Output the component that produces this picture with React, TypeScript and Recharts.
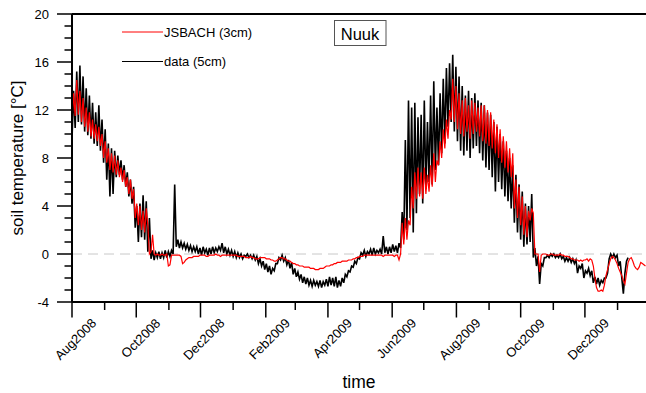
import React from "react";
import { LineChart, Line, XAxis, YAxis, ReferenceLine } from "recharts";

// days counted from 1 Aug 2008; two readings per 3-day step (start / middle)
const monthDays = [0, 31, 61, 92, 122, 153, 184, 212, 243, 273, 304, 334, 365, 396, 426, 457, 487, 518];
const monthLabels: Record<number, string> = {
  0: "Aug2008",
  61: "Oct2008",
  122: "Dec2008",
  184: "Feb2009",
  243: "Apr2009",
  304: "Jun2009",
  365: "Aug2009",
  426: "Oct2009",
  487: "Dec2009",
};
const yTicks = [-4, -3, -2, -1, 0, 1, 2, 3, 4, 5, 6, 7, 8, 9, 10, 11, 12, 13, 14, 15, 16, 17, 18, 19, 20];
const yLabels = [-4, 0, 4, 8, 12, 16, 20];

// data (5cm)
const dataA: (number | null)[] = [
  9.5, 10.5, 11.0, 10.8, 10.2, 9.9, 9.6, 9.2, 9.0, 8.6,
  7.6, 6.2, 4.8, 5.0, 6.4, 6.6, 6.2, 5.6, 4.8, 4.2,
  2.2, 1.0, 1.4, 1.2, 0.2, -0.4, -0.5, -0.3, -0.4, -0.3,
  -0.3, -0.2, 0.0, 0.6, 0.5, 0.5, 0.4, 0.3, 0.2, 0.2,
  0.0, -0.1, 0.1, -0.1, 0.0, 0.1, 0.2, 0.3, 0.1, 0.0,
  -0.1, -0.2, -0.3, -0.3, -0.4, -0.2, -0.3, -0.4, -0.5, -0.8,
  -1.0, -1.3, -1.5, -1.7, -1.4, -0.8, -0.5, -0.6, -0.9, -1.2,
  -1.7, -1.9, -2.1, -2.4, -2.5, -2.6, -2.7, -2.6, -2.7, -2.8,
  -2.6, -2.7, -2.6, -2.7, -2.8, -2.7, -2.4, -1.9, -1.5, -1.1,
  -0.8, -0.4, -0.1, -0.2, 0.0, -0.1, 0.0, 0.1, 0.0, 0.1,
  0.0, 0.1, 0.2, 0.1, 0.5, 1.2, 2.0, 3.0, 1.8, 3.4,
  5.0, 4.2, 5.4, 6.0, 5.8, 7.0, 7.4, 8.4, 9.2, 10.6,
  11.0, 10.2, 9.4, 8.6, 8.2, 8.6, 8.0, 8.8, 9.0, 8.4,
  7.8, 7.2, 7.0, 6.4, 5.2, 6.0, 5.4, 4.8, 4.4, 3.8,
  2.6, 1.8, 1.2, 0.6, 0.8, 1.0, -0.3, -1.0, -2.5, -1.0,
  -0.3, -0.3, -0.2, -0.3, -0.3, -0.4, -0.6, -0.6, -0.7, -0.8,
  -1.6, -1.2, -2.0, -1.6, -1.8, -2.4, -2.5, -2.6, -2.4, -2.0,
  -0.4, -0.3, -0.3, -1.0, -2.0, -1.6, -0.3, null, null, null,
  null, null,
];
const dataB: (number | null)[] = [
  13.6, 15.2, 15.7, 14.8, 13.8, 13.2, 12.6, 11.8, 12.4, 11.2,
  10.4, 9.2, 8.8, 8.6, 8.2, 7.8, 7.4, 6.8, 6.2, 5.6,
  4.0, 4.2, 4.9, 4.4, 3.0, 0.3, 0.1, 0.2, 0.1, 0.3,
  0.2, 0.3, 5.8, 1.2, 1.0, 0.9, 0.8, 0.7, 0.6, 0.6,
  0.5, 0.6, 0.4, 0.5, 0.6, 0.5, 0.6, 0.9, 0.6, 0.4,
  0.3, 0.2, 0.1, 0.0, -0.1, 0.0, -0.1, -0.1, -0.2, -0.4,
  -0.6, -0.8, -1.0, -1.2, -0.8, -0.3, -0.1, -0.3, -0.5, -0.7,
  -1.2, -1.5, -1.7, -1.9, -2.0, -2.2, -2.2, -2.3, -2.2, -2.3,
  -2.1, -1.9, -2.0, -1.9, -2.2, -2.0, -1.7, -1.4, -1.0, -0.6,
  -0.3, 0.1, 0.3, 0.2, 0.4, 0.5, 0.3, 0.4, 1.5, 0.6,
  0.6, 0.8, 0.7, 0.9, 3.5, 9.5, 12.8, 12.2, 12.6, 11.4,
  11.6, 12.8, 11.0, 13.2, 14.4, 12.2, 13.4, 14.6, 15.5, 15.9,
  16.6, 15.6, 14.8, 14.0, 13.2, 13.6, 13.0, 13.4, 12.8, 12.6,
  12.4, 11.8, 11.6, 11.0, 10.6, 10.0, 9.4, 8.6, 8.0, 7.4,
  6.6, 5.8, 5.2, 4.2, 4.0, 5.0, 0.5, -0.2, -0.8, -0.3,
  -0.1, 0.0, 0.0, -0.1, 0.0, -0.2, -0.3, -0.3, -0.4, -0.5,
  -1.0, -0.8, -1.4, -1.2, -1.4, -1.9, -2.0, -2.2, -2.0, -1.6,
  0.0, 0.0, -0.1, -0.6, -3.3, -0.6, null, null, null, null,
  null, null,
];

// JSBACH (3cm)
const modelA: number[] = [
  11.0, 11.5, 11.6, 11.0, 10.6, 10.2, 9.8, 9.6, 9.4, 9.0,
  8.0, 7.6, 7.0, 6.8, 6.6, 6.4, 6.0, 5.6, 5.0, 4.6,
  3.0, 2.4, 2.0, 1.8, 2.4, 0.2, 0.0, 0.0, -0.1, -0.1,
  0.0, -0.9, -0.1, -0.1, -0.1, -0.8, -0.5, -0.3, -0.3, -0.2,
  -0.2, -0.1, -0.1, -0.2, -0.1, -0.1, -0.1, -0.2, -0.1, -0.1,
  -0.1, -0.1, -0.1, -0.2, -0.2, -0.3, -0.3, -0.3, -0.4, -0.4,
  -0.3, -0.3, -0.4, -0.5, -0.6, -0.5, -0.3, -0.4, -0.5, -0.6,
  -0.8, -0.9, -1.0, -1.0, -1.1, -1.1, -1.2, -1.3, -1.3, -1.2,
  -1.1, -1.0, -0.9, -0.8, -0.7, -0.7, -0.6, -0.6, -0.5, -0.4,
  -0.3, -0.2, -0.2, -0.1, -0.1, -0.1, -0.1, -0.1, -0.1, -0.1,
  -0.1, -0.1, -0.2, -0.1, 0.0, 0.8, 1.2, 2.4, 3.8, 4.6,
  4.8, 4.6, 5.0, 5.2, 5.6, 6.0, 7.4, 8.0, 8.8, 9.6,
  11.2, 11.0, 10.4, 10.0, 9.8, 10.2, 9.6, 10.0, 10.2, 9.8,
  9.4, 9.2, 9.0, 8.8, 8.4, 8.0, 7.6, 7.2, 6.8, 6.4,
  3.8, 3.0, 2.4, 1.6, 1.4, 2.8, 3.4, 0.0, -1.5, 0.0,
  0.0, -0.1, 0.0, -0.1, -0.1, -0.1, -0.2, -0.2, -0.4, -0.5,
  -0.5, -0.5, -0.5, -0.4, -0.4, -1.0, -2.8, -3.1, -3.1, -1.8,
  -0.8, -0.2, -0.5, -1.2, -1.8, -2.5, -0.7, -0.3, -1.0, -1.3,
  -0.7, -0.9,
];
const modelB: number[] = [
  13.4, 14.5, 13.6, 13.0, 12.2, 11.8, 11.2, 10.8, 10.6, 10.0,
  9.4, 8.8, 8.4, 8.2, 7.8, 7.2, 7.0, 6.4, 6.2, 5.4,
  4.2, 4.0, 3.6, 3.8, 0.0, 1.6, -0.1, -0.1, 0.0, -0.1,
  -1.0, -0.1, -0.1, -0.1, -0.2, -0.7, -0.4, -0.3, -0.2, -0.2,
  -0.1, -0.1, -0.2, -0.1, -0.1, 0.0, -0.1, -0.1, -0.1, -0.1,
  -0.1, -0.1, -0.2, -0.2, -0.2, -0.3, -0.2, -0.3, -0.4, -0.3,
  -0.3, -0.4, -0.4, -0.5, -0.6, -0.4, -0.3, -0.4, -0.6, -0.7,
  -0.8, -0.9, -1.0, -1.1, -1.1, -1.2, -1.2, -1.3, -1.2, -1.2,
  -1.0, -1.0, -0.9, -0.8, -0.7, -0.6, -0.6, -0.5, -0.5, -0.4,
  -0.3, -0.2, -0.1, -0.1, -0.1, -0.1, -0.1, -0.1, -0.2, -0.1,
  -0.1, -0.1, -0.1, -0.5, 2.6, 3.0, 2.8, 5.6, 6.8, 7.2,
  6.8, 7.2, 6.6, 7.4, 8.4, 7.8, 9.4, 10.4, 11.2, 12.0,
  14.6, 14.0, 13.4, 12.8, 13.0, 12.4, 12.8, 12.6, 12.2, 12.4,
  12.4, 12.0, 11.8, 11.2, 10.8, 10.4, 9.8, 9.4, 8.8, 8.4,
  6.2, 5.6, 4.8, 4.0, 3.6, 3.8, 0.0, 0.0, -0.1, 0.0,
  -0.1, 0.0, -0.1, -0.1, 0.0, -0.1, -0.2, -0.3, -0.4, -0.5,
  -0.6, -0.6, -0.5, -0.6, -0.5, -2.0, -3.1, -3.0, -2.6, -1.3,
  -0.4, -0.3, -0.8, -1.5, -2.2, -1.6, -0.4, -0.6, -1.2, -1.1,
  -0.8, -1.0,
];

const chartData: { day: number; data: number | null; model: number }[] = [];
for (let i = 0; i < modelA.length; i++) {
  chartData.push({ day: i * 3, data: dataA[i], model: modelA[i] });
  chartData.push({ day: i * 3 + 1.5, data: dataB[i], model: modelB[i] });
}

const FONT = "'Liberation Sans', Arial, Helvetica, sans-serif";

const XTick = (props: any) => {
  const { x, y, payload } = props;
  const label = monthLabels[payload.value];
  return (
    <g>
      <line x1={x} y1={y} x2={x} y2={y + (label ? 15.5 : 8)} stroke="#000" strokeWidth={1.5} />
      {label && (
        <text
          x={x + 25}
          y={y + 22}
          transform={`rotate(-45, ${x + 25}, ${y + 22})`}
          textAnchor="end"
          fontSize={13}
          fontFamily={FONT}
          fill="#000"
        >
          {label}
        </text>
      )}
    </g>
  );
};

const YTick = (props: any) => {
  const { x, y, payload } = props;
  const major = yLabels.includes(payload.value);
  return (
    <g>
      <line x1={x - (major ? 15 : 7.5)} y1={y} x2={x} y2={y} stroke="#000" strokeWidth={1.5} />
      {major && (
        <text x={x - 23} y={y + 4.5} textAnchor="end" fontSize={13} fontFamily={FONT} fill="#000">
          {payload.value}
        </text>
      )}
    </g>
  );
};

const App: React.FC = () => {
  return (
    <div style={{ position: "absolute", left: 0, top: 0, width: 646, height: 393, background: "#fff" }}>
      <LineChart
        width={646}
        height={393}
        data={chartData}
        margin={{ top: 14, right: 0, bottom: 0, left: 0 }}
      >
        <XAxis
          dataKey="day"
          type="number"
          domain={[0, 545]}
          ticks={monthDays}
          interval={0}
          height={91}
          tickSize={0}
          tickMargin={0}
          tickLine={false}
          tick={<XTick />}
          axisLine={{ stroke: "#000", strokeWidth: 2 }}
          allowDataOverflow
        />
        <YAxis
          type="number"
          domain={[-4, 20]}
          ticks={yTicks}
          interval={0}
          width={72}
          tickSize={0}
          tickMargin={0}
          tickLine={false}
          tick={<YTick />}
          axisLine={{ stroke: "#000", strokeWidth: 2 }}
          allowDataOverflow
        />
        <ReferenceLine y={0} stroke="#c8c8c8" strokeDasharray="10 6" />
        <ReferenceLine y={20} stroke="#000" strokeWidth={2} />
        <Line
          type="linear"
          dataKey="data"
          stroke="#000"
          strokeWidth={1.6}
          dot={false}
          isAnimationActive={false}
        />
        <Line
          type="linear"
          dataKey="model"
          stroke="#ff0000"
          strokeWidth={1.2}
          dot={false}
          isAnimationActive={false}
        />
      </LineChart>
      <svg
        width={646}
        height={393}
        style={{ position: "absolute", left: 0, top: 0, pointerEvents: "none" }}
        fontFamily={FONT}
      >
        <line x1={122} y1={32} x2={163} y2={32} stroke="#ff0000" strokeWidth={1} />
        <text x={164} y={36.5} fontSize={13} fill="#000">JSBACH (3cm)</text>
        <line x1={122} y1={61.5} x2={163} y2={61.5} stroke="#000" strokeWidth={1} />
        <text x={164} y={66} fontSize={13} fill="#000">data (5cm)</text>
        <rect x={334.5} y={20.5} width={51.5} height={25} fill="#fff" stroke="#555" strokeWidth={1} />
        <text x={360} y={39.5} fontSize={16.5} textAnchor="middle" fill="#000">Nuuk</text>
        <text
          x={23}
          y={158}
          fontSize={17}
          textAnchor="middle"
          transform="rotate(-90, 23, 158)"
          fill="#000"
        >
          soil temperature [°C]
        </text>
        <text x={359} y={388} fontSize={17.5} textAnchor="middle" fill="#000">time</text>
      </svg>
    </div>
  );
};

export default App;
